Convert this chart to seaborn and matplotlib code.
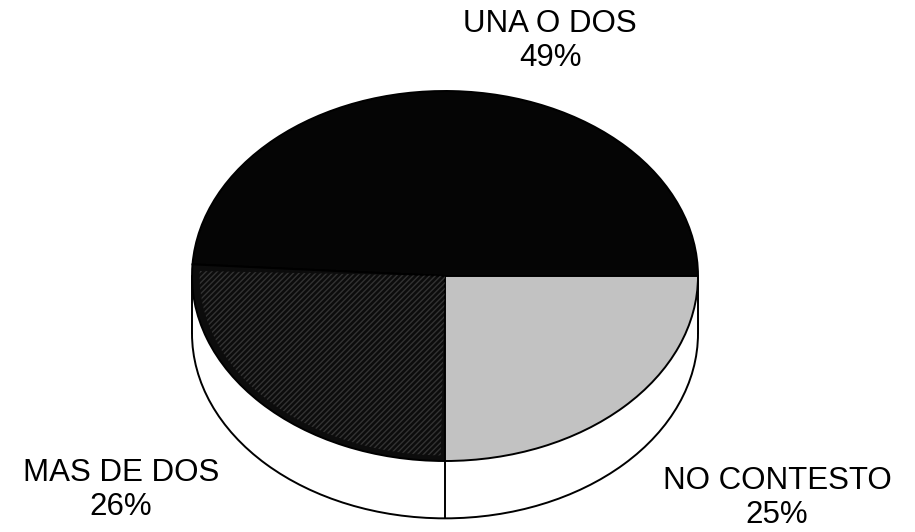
import numpy as np
import matplotlib
matplotlib.use("Agg")
import matplotlib.pyplot as plt
import matplotlib.patches as mpatches
import seaborn as sns

sns.set_style("white")
plt.rcParams['font.family'] = ['Liberation Sans', 'DejaVu Sans']

# datos de la grafica
categorias = ['UNA O DOS', 'MAS DE DOS', 'NO CONTESTO']
porcentajes = [49, 26, 25]
colores = ['#050505', '#0c0c0c', '#c2c2c2']

profundidad = 0.31  # grosor del "3D" en unidades del radio

fig = plt.figure(figsize=(9.15, 5.32), dpi=100)
ax = fig.add_axes([0, 0, 1, 1])

# base del pastel (pared lateral)
base = mpatches.Ellipse((0, -profundidad), 2, 2, facecolor='white',
                        edgecolor='black', linewidth=1.4, zorder=1)
ax.add_patch(base)
ax.add_patch(mpatches.Rectangle((-1, -profundidad), 2, profundidad,
                                facecolor='white', edgecolor='none', zorder=2))
ax.plot([-1, -1], [0, -profundidad], color='black', lw=1.4, zorder=3)
ax.plot([1, 1], [0, -profundidad], color='black', lw=1.4, zorder=3)

# tapa del pastel
wedges, _ = ax.pie(porcentajes, colors=colores, startangle=0, counterclock=True,
                   radius=1, center=(0, 0),
                   wedgeprops=dict(edgecolor='black', linewidth=1.4))
for w in wedges:
    w.set_zorder(4)

# linea entre MAS DE DOS y NO CONTESTO en la pared
ang = np.deg2rad(360 * (porcentajes[0] + porcentajes[1]) / sum(porcentajes))
ax.plot([np.cos(ang), np.cos(ang)], [np.sin(ang), np.sin(ang) - profundidad],
        color='black', lw=1.4, zorder=3)

# textura del sector MAS DE DOS
w2 = wedges[1]
tex = mpatches.Wedge(w2.center, w2.r * 0.97, w2.theta1 + 2, w2.theta2 - 1,
                     facecolor='none', edgecolor='#333333', hatch='//////',
                     linewidth=0, zorder=5)
ax.add_patch(tex)

ax.set_aspect('auto')
ax.set_xlim(-445 / 253, (915 - 445) / 253)
ax.set_ylim(-256 / 185, (532 - 256) / 185)
ax.axis('off')

fs = 22.5
fig.text(550 / 915, 1 - 41 / 532, '%s\n%d%%' % (categorias[0], porcentajes[0]),
         ha='center', va='center', multialignment='center', fontsize=fs,
         color='black', linespacing=1.15)
fig.text(121 / 915, 1 - 490 / 532, '%s\n%d%%' % (categorias[1], porcentajes[1]),
         ha='center', va='center', multialignment='center', fontsize=fs,
         color='black', linespacing=1.15)
fig.text(777 / 915, 1 - 498 / 532, '%s\n%d%%' % (categorias[2], porcentajes[2]),
         ha='center', va='center', multialignment='center', fontsize=fs,
         color='black', linespacing=1.15)

fig.savefig('out.png', dpi=100, facecolor='white')
